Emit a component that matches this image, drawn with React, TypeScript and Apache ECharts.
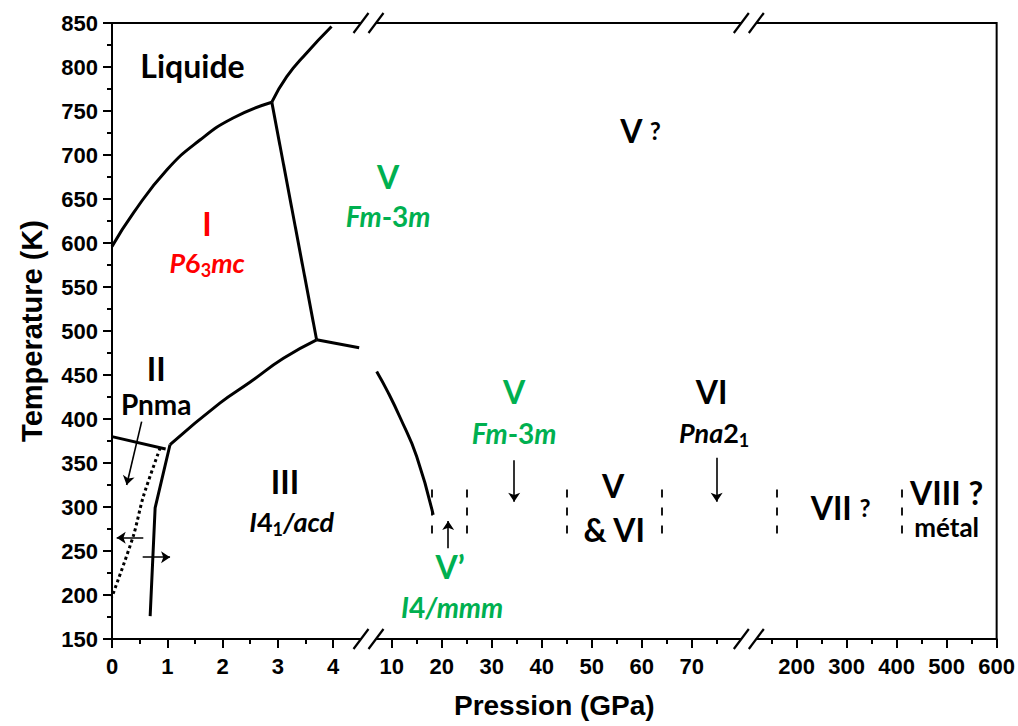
import React, { useEffect, useRef } from "react";
import * as echarts from "echarts";

// ---------- tick values (GPa) on the three pieces of the broken pressure axis ----------
const majorSeg1 = [0, 1, 2, 3, 4];
const majorSeg2 = [10, 20, 30, 40, 50, 60, 70];
const majorSeg3 = [200, 300, 400, 500, 600];
const minorSeg1 = [0.5, 1.5, 2.5, 3.5];
const minorSeg2 = [15, 25, 35, 45, 55, 65, 75];
const minorSeg3 = [150, 250, 350, 450, 550];

// ---------- phase boundaries [pressure GPa, temperature K] ----------
const meltingI = [[0, 596], [0.385, 634], [0.99, 683], [1.59, 717], [2.19, 742], [2.89, 760]];
const meltingV = [[2.89, 760], [3.16, 789], [3.52, 816], [3.97, 846]];
const boundaryIV = [[2.89, 760], [3.7, 490]];
const boundaryIIIV = [[3.7, 490], [4.47, 481]];
const boundaryIIII = [[1.05, 371], [1.95, 418], [2.5, 442], [3.1, 469], [3.7, 490]];
const boundaryIII = [[0, 380], [0.97, 366]];
const boundaryIIIII = [[1.05, 371], [0.78, 299], [0.69, 176]];
const dottedLine = [[0.87, 367], [0.567, 312], [0.385, 267], [0, 198]];
const boundaryIIIVp = [[7.0, 454], [9.3, 430], [11.66, 402], [15.0, 357.5], [18.3, 291]];

// arrows [p1, T1, p2, T2] (head at second point)
const arrows = [
  [0.536, 397, 0.265, 325],
  [0.566, 265, 0.085, 265],
  [0.555, 243, 1.05, 243],
  [34.5, 353, 34.5, 306],
  [75, 356, 75, 306],
  [21.3, 253, 21.3, 284],
];
// dashed vertical separators (GPa) and their temperature span
const separators = [18, 25, 45, 64, 160, 410];
const separatorSpan = [270, 325];

// region labels: [p, T, rich text]
const regionLabels: [number, number, string][] = [
  [1.456, 802, "{kB|Liquide}"],
  [1.72, 622, "{rB|I}"],
  [1.72, 578, "{rI|P}{rN|6}{rS|3}{rI|mc}"],
  [9.3, 676, "{gB|V}"],
  [9.3, 631, "{gI|Fm}{gN|-3}{gI|m}"],
  [59.7, 728, "{kB|V }{kQ|?}"],
  [0.8, 457, "{kB|II}"],
  [0.8, 417, "{kM|Pnma}"],
  [3.13, 329, "{kB|III}"],
  [3.25, 283, "{kI|I}{kN|4}{kS|1}{kI|/acd}"],
  [34.5, 431, "{gB|V}"],
  [34.5, 384, "{gI|Fm}{gN|-3}{gI|m}"],
  [21.7, 232, "{gB|V’}"],
  [22.1, 186, "{gI|I}{gN|4}{gI|/mmm}"],
  [54.3, 324, "{kB|V}"],
  [54.5, 275, "{kB|& VI}"],
  [74, 431, "{kB|VI}"],
  [74.5, 385, "{kI|Pna}{kN|2}{kS|1}"],
  [288, 300, "{kB|VII }{kQ|?}"],
  [500, 316, "{kB|VIII ?}"],
  [500, 277, "{kM2|métal}"],
];

// ---------- broken-axis mapping ----------
const SEG1_SCALE = 55.3;
const SEG2_U10 = 279.7;
const SEG2_SCALE = 5;
const SEG3_U200 = 684.7;
const SEG3_SCALE = 0.5;
const toU = (p: number) => {
  if (p <= 4.8) return p * SEG1_SCALE;
  if (p <= 100) return SEG2_U10 + (p - 10) * SEG2_SCALE;
  return SEG3_U200 + (p - 200) * SEG3_SCALE;
};
const BREAK_U = [256.5, 636.8];

const GRID = { left: 112, top: 23, width: 885, height: 616 };
const TICK_FONT = "Liberation Sans, Arial, sans-serif";
const REGION_FONT = "Lato, sans-serif";
const GREEN = "#00B050";
const RED = "#FF0000";

function mk(color: string, size: number, italic: boolean, extra: any = {}) {
  return { color, fontSize: size, fontWeight: "bold", fontFamily: REGION_FONT, fontStyle: italic ? "italic" : "normal", ...extra };
}
const sub = (color: string) => mk(color, 18, false, { padding: [15, 0, 0, 0] });

const rich = {
  kB: mk("#000", 32, false),
  kM: mk("#000", 28, false),
  kM2: mk("#000", 26, false),
  kQ: mk("#000", 24, false),
  kI: mk("#000", 27, true),
  kN: mk("#000", 27, false),
  kS: sub("#000"),
  rB: mk(RED, 32, false),
  rI: mk(RED, 27, true),
  rN: mk(RED, 27, false),
  rS: sub(RED),
  gB: mk(GREEN, 32, false),
  gI: mk(GREEN, 28, true),
  gN: mk(GREEN, 28, false),
  gS: sub(GREEN),
};

function lineSeries(data: number[][], extra: any = {}) {
  return {
    type: "line",
    data: data.map(([p, t]) => [toU(p), t]),
    showSymbol: false,
    symbol: "none",
    lineStyle: { color: "#000", width: 3 },
    z: 3,
    ...extra,
  };
}
const smoothC = { smooth: 0.5 };

export default function App() {
  const ref = useRef<HTMLDivElement>(null);
  useEffect(() => {
    if (!ref.current) return;
    const chart = echarts.init(ref.current, null, { renderer: "svg" });

    const majorP = [...majorSeg1, ...majorSeg2, ...majorSeg3];
    const majorU = majorP.map(toU);
    const minorU = [...minorSeg1, ...minorSeg2, ...minorSeg3].map(toU);
    const labelMap = new Map<string, string>();
    majorP.forEach((p) => labelMap.set(toU(p).toFixed(2), String(p)));
    const uMax = toU(600);

    // break marks on bottom and top axis lines
    const graphics: any[] = [];
    const yLines = [GRID.top, GRID.top + GRID.height];
    BREAK_U.forEach((bu) => {
      const bx = GRID.left + bu;
      yLines.forEach((y) => {
        graphics.push({
          type: "rect",
          shape: { x: bx - 7.5, y: y - 3, width: 15, height: 6 },
          style: { fill: "#fff" },
          z: 100,
        });
        [bx - 7.5, bx + 7.5].forEach((cx) => {
          graphics.push({
            type: "line",
            shape: { x1: cx - 7.5, y1: y + 10, x2: cx + 7.5, y2: y - 10 },
            style: { stroke: "#000", lineWidth: 2.2 },
            z: 101,
          });
        });
      });
    });

    chart.setOption({
      animation: false,
      backgroundColor: "#fff",
      grid: { ...GRID, show: true, borderColor: "#000", borderWidth: 2, backgroundColor: "transparent" },
      xAxis: [
        {
          type: "value",
          min: 0,
          max: uMax,
          position: "bottom",
          name: "Pression (GPa)",
          nameLocation: "middle",
          nameGap: 52,
          nameTextStyle: { fontSize: 28, fontWeight: "bold", fontFamily: TICK_FONT, color: "#000" },
          axisLine: { show: true, lineStyle: { color: "#000", width: 2 } },
          axisTick: { show: true, customValues: majorU, length: 9, inside: false, lineStyle: { color: "#000", width: 2 } },
          axisLabel: {
            customValues: majorU,
            margin: 16,
            fontSize: 22,
            fontWeight: "bold",
            fontFamily: TICK_FONT,
            color: "#000",
            formatter: (v: number) => labelMap.get(Number(v).toFixed(2)) ?? "",
          },
          splitLine: { show: false },
        },
        {
          type: "value",
          min: 0,
          max: uMax,
          position: "bottom",
          axisLine: { show: false },
          axisTick: { show: true, customValues: minorU, length: 5, inside: false, lineStyle: { color: "#000", width: 2 } },
          axisLabel: { show: false, customValues: minorU },
          splitLine: { show: false },
        },
      ],
      yAxis: {
        type: "value",
        min: 150,
        max: 850,
        interval: 50,
        name: "Temperature (K)",
        nameLocation: "middle",
        nameGap: 66,
        nameTextStyle: { fontSize: 29, fontWeight: "bold", fontFamily: TICK_FONT, color: "#000" },
        axisLine: { show: true, lineStyle: { color: "#000", width: 2 } },
        axisTick: { show: true, length: 9, inside: false, lineStyle: { color: "#000", width: 2 } },
        minorTick: { show: true, splitNumber: 2, length: 5, lineStyle: { color: "#000", width: 2 } },
        axisLabel: { margin: 14, fontSize: 22, fontWeight: "bold", fontFamily: TICK_FONT, color: "#000" },
        splitLine: { show: false },
      },
      series: [
        lineSeries(meltingI, smoothC),
        lineSeries(meltingV, smoothC),
        lineSeries(boundaryIV),
        lineSeries(boundaryIIIV),
        lineSeries(boundaryIIII, smoothC),
        lineSeries(boundaryIII),
        lineSeries(boundaryIIIII),
        lineSeries(dottedLine, { smooth: 0.3, lineStyle: { color: "#000", width: 3, type: [3, 3], cap: "butt" } }),
        lineSeries(boundaryIIIVp, smoothC),
        {
          type: "lines",
          coordinateSystem: "cartesian2d",
          symbol: ["none", "arrow"],
          symbolSize: 9,
          lineStyle: { color: "#000", width: 1.6, opacity: 1 },
          data: arrows.map(([p1, t1, p2, t2]) => ({ coords: [[toU(p1), t1], [toU(p2), t2]] })),
          z: 4,
        },
        {
          type: "lines",
          coordinateSystem: "cartesian2d",
          symbol: ["none", "none"],
          lineStyle: { color: "#000", width: 1.8, opacity: 1, type: [8, 10] },
          data: separators.map((p) => ({ coords: [[toU(p), separatorSpan[0]], [toU(p), separatorSpan[1]]] })),
          z: 4,
        },
        {
          type: "scatter",
          symbolSize: 1,
          itemStyle: { color: "rgba(0,0,0,0)", opacity: 1 },
          silent: true,
          z: 5,
          label: { show: true, position: "inside", rich, opacity: 1 },
          data: regionLabels.map(([p, t, text]) => ({
            value: [toU(p), t],
            label: { show: true, position: "inside", formatter: text, rich, opacity: 1 },
          })),
        },
      ],
      graphic: graphics,
    });
    return () => chart.dispose();
  }, []);
  return (
    <div
      ref={ref}
      style={{ position: "fixed", left: 0, top: 0, width: 1018, height: 726, background: "#fff" }}
    />
  );
}
